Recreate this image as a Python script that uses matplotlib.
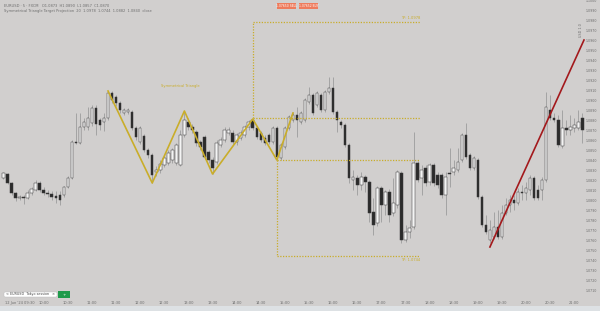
import matplotlib
matplotlib.use("Agg")
import matplotlib.pyplot as plt
from matplotlib.patches import FancyBboxPatch, Rectangle
from matplotlib.ticker import MultipleLocator, FormatStrFormatter

# candle data, 5 min bars
OPENS = [
    1.0822, 1.0826, 1.0817, 1.0807, 1.0802, 1.0803, 1.0802, 1.0807, 1.0810, 1.0817,
    1.0810, 1.0807, 1.0806, 1.0804, 1.0805, 1.0805, 1.0813, 1.0822, 1.0858, 1.0857,
    1.0873, 1.0873, 1.0877, 1.0892, 1.0880, 1.0878, 1.0882, 1.0907, 1.0903, 1.0897,
    1.0887, 1.0888, 1.0888, 1.0872, 1.0858, 1.0864, 1.0850, 1.0845, 1.0828, 1.0830,
    1.0835, 1.0837, 1.0840, 1.0837, 1.0835, 1.0865, 1.0878, 1.0873, 1.0868, 1.0858,
    1.0863, 1.0848, 1.0840, 1.0838, 1.0855, 1.0860, 1.0867, 1.0867, 1.0858, 1.0862,
    1.0865, 1.0873, 1.0880, 1.0872, 1.0867, 1.0862, 1.0865, 1.0858, 1.0872, 1.0842,
    1.0853, 1.0872, 1.0880, 1.0885, 1.0878, 1.0880, 1.0898, 1.0905, 1.0895, 1.0905,
    1.0890, 1.0908, 1.0912, 1.0888, 1.0878, 1.0875, 1.0855, 1.0820, 1.0822, 1.0815,
    1.0823, 1.0818, 1.0788, 1.0777, 1.0812, 1.0795, 1.0808, 1.0787, 1.0795, 1.0827,
    1.0760, 1.0768, 1.0773, 1.0837, 1.0822, 1.0832, 1.0818, 1.0835, 1.0825, 1.0825,
    1.0805, 1.0827, 1.0828, 1.0830, 1.0840, 1.0865, 1.0845, 1.0832, 1.0840, 1.0803,
    1.0775, 1.0760, 1.0763, 1.0773, 1.0763, 1.0787, 1.0795, 1.0800, 1.0797, 1.0808,
    1.0807, 1.0810, 1.0822, 1.0810, 1.0810, 1.0820, 1.0890, 1.0882, 1.0880, 1.0854,
    1.0872, 1.0870, 1.0872, 1.0872, 1.0882,
]
CLOSES = [
    1.0827, 1.0817, 1.0807, 1.0802, 1.0803, 1.0802, 1.0807, 1.0811, 1.0817, 1.0810,
    1.0807, 1.0806, 1.0803, 1.0802, 1.0800, 1.0813, 1.0822, 1.0858, 1.0857, 1.0873,
    1.0878, 1.0882, 1.0892, 1.0876, 1.0875, 1.0882, 1.0907, 1.0900, 1.0897, 1.0890,
    1.0890, 1.0890, 1.0872, 1.0863, 1.0872, 1.0850, 1.0845, 1.0825, 1.0830, 1.0836,
    1.0842, 1.0847, 1.0850, 1.0855, 1.0865, 1.0880, 1.0873, 1.0870, 1.0857, 1.0853,
    1.0843, 1.0840, 1.0832, 1.0857, 1.0860, 1.0870, 1.0870, 1.0858, 1.0865, 1.0867,
    1.0873, 1.0878, 1.0872, 1.0863, 1.0860, 1.0857, 1.0858, 1.0872, 1.0843, 1.0855,
    1.0872, 1.0883, 1.0885, 1.0880, 1.0887, 1.0900, 1.0905, 1.0887, 1.0907, 1.0890,
    1.0908, 1.0912, 1.0888, 1.0880, 1.0875, 1.0855, 1.0822, 1.0823, 1.0815, 1.0823,
    1.0818, 1.0787, 1.0775, 1.0812, 1.0795, 1.0808, 1.0785, 1.0797, 1.0828, 1.0760,
    1.0768, 1.0772, 1.0837, 1.0820, 1.0830, 1.0817, 1.0835, 1.0817, 1.0815, 1.0805,
    1.0823, 1.0826, 1.0832, 1.0838, 1.0865, 1.0843, 1.0832, 1.0842, 1.0803, 1.0775,
    1.0768, 1.0770, 1.0773, 1.0763, 1.0787, 1.0795, 1.0800, 1.0797, 1.0808, 1.0807,
    1.0812, 1.0822, 1.0802, 1.0802, 1.0820, 1.0893, 1.0882, 1.0880, 1.0855, 1.0872,
    1.0870, 1.0873, 1.0875, 1.0878, 1.0870,
]
HIGHS = [
    1.0828, 1.0827, 1.0818, 1.0808, 1.0805, 1.0805, 1.0810, 1.0813, 1.0820, 1.0819,
    1.0813, 1.0810, 1.0809, 1.0809, 1.0809, 1.0814, 1.0824, 1.0860, 1.0887, 1.0887,
    1.0882, 1.0893, 1.0895, 1.0895, 1.0882, 1.0887, 1.0909, 1.0909, 1.0905, 1.0899,
    1.0892, 1.0892, 1.0890, 1.0874, 1.0874, 1.0866, 1.0852, 1.0847, 1.0834, 1.0840,
    1.0845, 1.0850, 1.0852, 1.0857, 1.0870, 1.0889, 1.0882, 1.0876, 1.0870, 1.0860,
    1.0865, 1.0850, 1.0843, 1.0860, 1.0863, 1.0873, 1.0873, 1.0870, 1.0867, 1.0870,
    1.0875, 1.0880, 1.0881, 1.0874, 1.0869, 1.0865, 1.0867, 1.0874, 1.0874, 1.0857,
    1.0874, 1.0885, 1.0888, 1.0893, 1.0889, 1.0902, 1.0913, 1.0907, 1.0909, 1.0907,
    1.0910, 1.0923, 1.0923, 1.0890, 1.0880, 1.0877, 1.0857, 1.0830, 1.0825, 1.0828,
    1.0825, 1.0820, 1.0802, 1.0814, 1.0814, 1.0810, 1.0811, 1.0822, 1.0830, 1.0829,
    1.0775, 1.0780, 1.0868, 1.0839, 1.0835, 1.0835, 1.0837, 1.0837, 1.0828, 1.0827,
    1.0828, 1.0852, 1.0840, 1.0852, 1.0867, 1.0877, 1.0847, 1.0844, 1.0842, 1.0805,
    1.0785, 1.0780, 1.0788, 1.0790, 1.0795, 1.0802, 1.0805, 1.0805, 1.0812, 1.0815,
    1.0818, 1.0825, 1.0824, 1.0815, 1.0823, 1.0908, 1.0905, 1.0887, 1.0885, 1.0890,
    1.0880, 1.0885, 1.0882, 1.0890, 1.0887,
]
LOWS = [
    1.0821, 1.0816, 1.0805, 1.0799, 1.0800, 1.0796, 1.0801, 1.0805, 1.0809, 1.0808,
    1.0805, 1.0803, 1.0800, 1.0797, 1.0795, 1.0803, 1.0812, 1.0821, 1.0856, 1.0856,
    1.0870, 1.0870, 1.0874, 1.0865, 1.0870, 1.0869, 1.0880, 1.0897, 1.0894, 1.0887,
    1.0885, 1.0886, 1.0870, 1.0860, 1.0856, 1.0848, 1.0842, 1.0817, 1.0824, 1.0827,
    1.0833, 1.0835, 1.0837, 1.0835, 1.0834, 1.0863, 1.0870, 1.0867, 1.0854, 1.0850,
    1.0841, 1.0837, 1.0826, 1.0836, 1.0853, 1.0858, 1.0865, 1.0856, 1.0855, 1.0860,
    1.0863, 1.0870, 1.0870, 1.0861, 1.0858, 1.0855, 1.0856, 1.0856, 1.0840, 1.0840,
    1.0851, 1.0870, 1.0878, 1.0863, 1.0876, 1.0878, 1.0896, 1.0885, 1.0893, 1.0888,
    1.0888, 1.0906, 1.0886, 1.0868, 1.0872, 1.0853, 1.0817, 1.0810, 1.0805, 1.0810,
    1.0808, 1.0778, 1.0765, 1.0774, 1.0778, 1.0785, 1.0778, 1.0784, 1.0792, 1.0757,
    1.0758, 1.0762, 1.0771, 1.0818, 1.0805, 1.0814, 1.0815, 1.0814, 1.0812, 1.0802,
    1.0785, 1.0813, 1.0825, 1.0828, 1.0838, 1.0841, 1.0830, 1.0830, 1.0801, 1.0773,
    1.0766, 1.0757, 1.0761, 1.0761, 1.0761, 1.0785, 1.0788, 1.0790, 1.0795, 1.0800,
    1.0800, 1.0805, 1.0800, 1.0800, 1.0800, 1.0818, 1.0880, 1.0878, 1.0853, 1.0852,
    1.0865, 1.0865, 1.0868, 1.0870, 1.0857,
]

# triangle swing points (bar index, price)
ZIGZAG_BARS = [26, 37, 45, 52, 62, 68, 72]
ZIGZAG_PRICES = [1.0909, 1.0817, 1.0889, 1.0826, 1.0881, 1.0840, 1.0887]

# target projection box
PROJ_START = 62
PROJ_BOTTOM_START = 68
PROJ_END = 103.6
TP_UP = 1.0978
BREAKOUT = 1.0882
BREAKDOWN = 1.0840
TP_DOWN = 1.0744

# trend line
TREND_BARS = [121, 144.4]
TREND_PRICES = [1.0753, 1.0960]

TIME_TICKS = [4, 10, 16, 22, 28, 34, 40, 46, 52, 58, 64, 70,
              76, 82, 88, 94, 100, 106, 112, 118, 124, 130, 136, 142]
TIME_LABELS = ["12 Jun '24 09:30", "10:00", "10:30", "11:00", "11:30", "12:00",
               "12:30", "13:00", "13:30", "14:00", "14:30", "15:00", "15:30",
               "16:00", "16:30", "17:00", "17:30", "18:00", "18:30", "19:00",
               "19:30", "20:00", "20:30", "21:00"]

BG = "#d1cfce"
BULL = "#f4f4f4"
BEAR = "#2b2b2b"
WICK = "#9c9c9c"
YELLOW = "#c9ad2a"
RED = "#a3191c"
TEXT = "#6e6e6e"

fig = plt.figure(figsize=(6, 3.11), dpi=100)
fig.patch.set_facecolor(BG)
ax = fig.add_axes([0, 13 / 311, 585 / 600, 298 / 311])
ax.set_facecolor(BG)

# candles
for i, (o, c, h, l) in enumerate(zip(OPENS, CLOSES, HIGHS, LOWS)):
    up = c >= o
    ax.vlines(i, l, h, color=WICK, linewidth=0.6, zorder=1)
    body = max(abs(c - o), 0.00008)
    ax.bar(i, body, bottom=min(o, c), width=0.62,
           color=BULL if up else BEAR,
           edgecolor="#3a3a3a", linewidth=0.35, zorder=2)

# triangle zigzag
ax.plot(ZIGZAG_BARS, ZIGZAG_PRICES, color=YELLOW, linewidth=1.2, zorder=3)
ax.text(44, 1.0914, "Symmetrical Triangle", color=YELLOW, fontsize=2.6,
        ha="center", va="center")

# projection lines
dot = dict(color=YELLOW, linewidth=0.9, linestyle=(0, (1, 1.2)), zorder=3)
ax.plot([PROJ_START, PROJ_START], [BREAKOUT, TP_UP], **dot)
ax.plot([PROJ_START, PROJ_END], [TP_UP, TP_UP], **dot)
ax.plot([PROJ_START, PROJ_END], [BREAKOUT, BREAKOUT], **dot)
ax.plot([PROJ_BOTTOM_START, PROJ_END], [BREAKDOWN, BREAKDOWN], **dot)
ax.plot([PROJ_BOTTOM_START, PROJ_BOTTOM_START], [BREAKDOWN, TP_DOWN], **dot)
ax.plot([PROJ_BOTTOM_START, PROJ_END], [TP_DOWN, TP_DOWN], **dot)
ax.text(PROJ_END, TP_UP + 0.0002, "TP: %.4f" % TP_UP, color=YELLOW,
        fontsize=2.6, ha="right", va="bottom")
ax.text(PROJ_END, TP_DOWN - 0.0002, "TP: %.4f" % TP_DOWN, color=YELLOW,
        fontsize=2.6, ha="right", va="top")

# trend line
ax.plot(TREND_BARS, TREND_PRICES, color=RED, linewidth=1.2, zorder=4)

ax.set_xlim(-0.87, 144.65)
ax.set_ylim(1.0702, 1.1000)
for s in ax.spines.values():
    s.set_visible(False)

ax.yaxis.tick_right()
ax.yaxis.set_major_locator(MultipleLocator(0.001))
ax.yaxis.set_major_formatter(FormatStrFormatter("%.4f"))
ax.tick_params(axis="y", length=0, pad=0.8, labelsize=2.3, labelcolor=TEXT)
ax.set_xticks(TIME_TICKS)
ax.set_xticklabels(TIME_LABELS)
ax.tick_params(axis="x", length=0, pad=2.5, labelsize=2.6, labelcolor=TEXT)

# header text
fig.text(4 / 600, 1 - 6 / 311, "EURUSD · 5 · FXCM   O1.0873  H1.0890  L1.0857  C1.0870",
         fontsize=2.6, color=TEXT, va="center")
fig.text(4 / 600, 1 - 11 / 311,
         "Symmetrical Triangle Target Projection  20  1.0978  1.0744  1.0882  1.0840  close",
         fontsize=2.6, color=TEXT, va="center")

# sell / buy buttons
for x0, label in [(277, "1.07650 SELL"), (299, "1.07652 BUY")]:
    fig.patches.append(Rectangle((x0 / 600, 1 - 9 / 311), 19 / 600, 6 / 311,
                                 transform=fig.transFigure, facecolor="#ee7b5c",
                                 edgecolor="none", zorder=10))
    fig.text((x0 + 9.5) / 600, 1 - 6 / 311, label, fontsize=2.2, color="white",
             ha="center", va="center", zorder=11)

# rotated tag on the price scale
fig.text(581 / 600, 1 - 30 / 311, "USD 1.0", fontsize=2.4, color=TEXT,
         rotation=90, ha="center", va="center")

# bottom-left symbol box
fig.patches.append(FancyBboxPatch((4 / 600, 14 / 311), 53 / 600, 5 / 311,
                                  boxstyle="round,pad=0,rounding_size=0.003",
                                  transform=fig.transFigure, facecolor="white",
                                  edgecolor="#bbbbbb", linewidth=0.3, zorder=10))
fig.text(6 / 600, 16.5 / 311, "< EURUSD  Tokyo session", fontsize=2.4,
         color="#444444", va="center", zorder=11)
fig.text(53 / 600, 16.5 / 311, "×", fontsize=2.6, color="#444444",
         ha="center", va="center", zorder=11)
fig.patches.append(Rectangle((58 / 600, 13 / 311), 12 / 600, 7 / 311,
                             transform=fig.transFigure, facecolor="#1f9a4b",
                             edgecolor="none", zorder=10))
fig.text(64 / 600, 16.5 / 311, "+", fontsize=3, color="white",
         ha="center", va="center", zorder=11)

# bottom strip
fig.patches.append(Rectangle((0, 0), 1, 5 / 311, transform=fig.transFigure,
                             facecolor="#dde1e4", edgecolor="none", zorder=9))

fig.savefig("out.png", dpi=100, facecolor=BG)
